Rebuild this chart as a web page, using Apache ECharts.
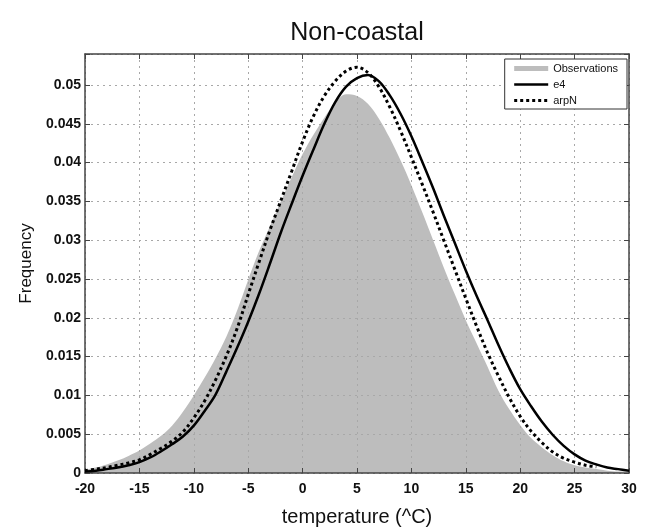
<!DOCTYPE html>
<html>
<head>
<meta charset="utf-8">
<script src="https://cdn.jsdelivr.net/npm/echarts@6/dist/echarts.min.js"></script>
<style>
html,body{margin:0;padding:0;background:#fff;}
#c{width:646px;height:532px;}
</style>
</head>
<body>
<div id="c"></div>
<script>
const temps = [-20,-19,-18,-17,-16,-15,-14,-13,-12,-11,-10,-9,-8,-7,-6,-5,-4,-3,-2,-1,0,1,2,3,4,5,6,7,8,9,10,11,12,13,14,15,16,17,18,19,20,21,22,23,24,25,26,27,28,29,30];
const observations = [0.0004,0.0007,0.0011,0.0016,0.0022,0.0029,0.0038,0.0048,0.0061,0.0079,0.0100,0.0123,0.0148,0.0176,0.0210,0.0249,0.0286,0.0318,0.0350,0.0381,0.0411,0.0436,0.0458,0.0477,0.0488,0.0486,0.0476,0.0457,0.0432,0.0403,0.0371,0.0336,0.0300,0.0264,0.0230,0.0197,0.0167,0.0137,0.0106,0.0082,0.0062,0.0045,0.0033,0.0023,0.0015,0.0010,0.0007,0.0005,0.0003,0.0002,0.0002];
const e4 = [0.0002,0.0003,0.0005,0.0007,0.0010,0.0014,0.0020,0.0028,0.0037,0.0047,0.0061,0.0080,0.0101,0.0131,0.0162,0.0195,0.0231,0.0270,0.0310,0.0347,0.0383,0.0417,0.0450,0.0478,0.0498,0.0509,0.0513,0.0505,0.0487,0.0463,0.0434,0.0401,0.0367,0.0331,0.0296,0.0261,0.0228,0.0197,0.0165,0.0135,0.0108,0.0086,0.0066,0.0049,0.0035,0.0024,0.0016,0.0011,0.0007,0.0005,0.0003];
const arpN = [0.0003,0.0005,0.0007,0.0010,0.0013,0.0017,0.0024,0.0032,0.0041,0.0053,0.0071,0.0093,0.0120,0.0151,0.0187,0.0230,0.0272,0.0313,0.0351,0.0389,0.0427,0.0460,0.0486,0.0505,0.0518,0.0523,0.0516,0.0498,0.0472,0.0441,0.0407,0.0372,0.0336,0.0299,0.0262,0.0225,0.0189,0.0155,0.0125,0.0097,0.0073,0.0054,0.0039,0.0027,0.0019,0.0014,0.0010,0.0008];
const xTicks = [-20,-15,-10,-5,0,5,10,15,20,25,30];
const yTicks = [0,0.005,0.01,0.015,0.02,0.025,0.03,0.035,0.04,0.045,0.05];

const pair = (vals) => vals.map((v, i) => [temps[i], v]);
const font = 'Liberation Sans, Arial, Helvetica, sans-serif';
const axisCol = '#444';
const gridLine = {show: true, lineStyle: {color: '#a8a8a8', type: [2, 4], width: 1}};
const noSym = {color: 'rgba(0,0,0,0)', borderWidth: 0, opacity: 0};

const chart = echarts.init(document.getElementById('c'), null, {renderer: 'canvas'});
chart.setOption({
  animation: false,
  backgroundColor: '#fff',
  graphic: [{
    type: 'text', x: 357, y: 21, z: 10,
    style: {text: 'Non-coastal', textAlign: 'center', textVerticalAlign: 'top',
      font: 'normal 25px ' + font, fill: '#111'}
  }],
  grid: {left: 85, right: 17, top: 54, bottom: 53, show: false},
  legend: {
    orient: 'vertical', right: 19, top: 59,
    itemWidth: 34, itemHeight: 10, itemGap: 5,
    padding: [4, 9, 3, 7],
    backgroundColor: '#fff', borderColor: '#333', borderWidth: 1,
    textStyle: {fontFamily: font, fontSize: 11, color: '#111'},
    data: [
      {name: 'Observations', itemStyle: noSym, lineStyle: {color: '#bdbdbd', width: 5}},
      {name: 'e4', itemStyle: noSym, lineStyle: {color: '#000', width: 2.5}},
      {name: 'arpN', itemStyle: noSym, lineStyle: {color: '#000', width: 3, type: [3, 3]}}
    ]
  },
  xAxis: [
    {
      type: 'value', min: -20, max: 30, interval: 5, z: 3,
      name: 'temperature (^C)', nameLocation: 'middle', nameGap: 34,
      nameTextStyle: {fontFamily: font, fontSize: 20, color: '#111'},
      axisLine: {show: true, onZero: false, lineStyle: {color: axisCol, width: 1.5}},
      axisTick: {show: true, inside: true, length: 5, lineStyle: {color: axisCol}},
      axisLabel: {fontFamily: font, fontSize: 14, fontWeight: 'bold', color: '#111', margin: 9,
        formatter: (v) => xTicks.includes(v) ? String(v) : ''},
      splitLine: gridLine
    },
    {
      type: 'value', min: -20, max: 30, interval: 5, position: 'top', z: 3,
      axisLine: {show: true, onZero: false, lineStyle: {color: axisCol, width: 1.5}},
      axisTick: {show: true, inside: true, length: 5, lineStyle: {color: axisCol}},
      axisLabel: {show: false}, splitLine: {show: false}
    }
  ],
  yAxis: [
    {
      type: 'value', min: 0, max: 0.054, interval: 0.005, z: 3,
      name: 'Frequency', nameLocation: 'middle', nameGap: 47, nameRotate: 90,
      nameTextStyle: {fontFamily: font, fontSize: 17, color: '#111'},
      axisLine: {show: true, onZero: false, lineStyle: {color: axisCol, width: 1.5}},
      axisTick: {show: true, inside: true, length: 5, lineStyle: {color: axisCol}},
      axisLabel: {fontFamily: font, fontSize: 14, fontWeight: 'bold', color: '#111', margin: 4,
        formatter: (v) => {
          const m = yTicks.find(t => Math.abs(t - v) < 1e-9);
          return m === undefined ? '' : String(m);
        }},
      splitLine: gridLine
    },
    {
      type: 'value', min: 0, max: 0.054, interval: 0.005, position: 'right', z: 3,
      axisLine: {show: true, onZero: false, lineStyle: {color: axisCol, width: 1.5}},
      axisTick: {show: true, inside: true, length: 5, lineStyle: {color: axisCol}},
      axisLabel: {show: false}, splitLine: {show: false}
    }
  ],
  series: [
    {
      name: 'Observations', type: 'line', smooth: 0.35, showSymbol: false, symbol: 'none', z: 1,
      data: pair(observations),
      lineStyle: {width: 0, color: '#bdbdbd'},
      itemStyle: {color: '#bdbdbd'},
      areaStyle: {color: '#bdbdbd', opacity: 1}
    },
    {
      name: 'e4', type: 'line', smooth: 0.35, showSymbol: false, symbol: 'none', z: 5,
      data: pair(e4),
      lineStyle: {width: 2.5, color: '#000'},
      itemStyle: {color: '#000'}
    },
    {
      name: 'arpN', type: 'line', smooth: 0.35, showSymbol: false, symbol: 'none', z: 6,
      data: pair(arpN),
      lineStyle: {width: 3, color: '#000', type: [3, 3]},
      itemStyle: {color: '#000'}
    }
  ]
});
</script>
</body>
</html>
